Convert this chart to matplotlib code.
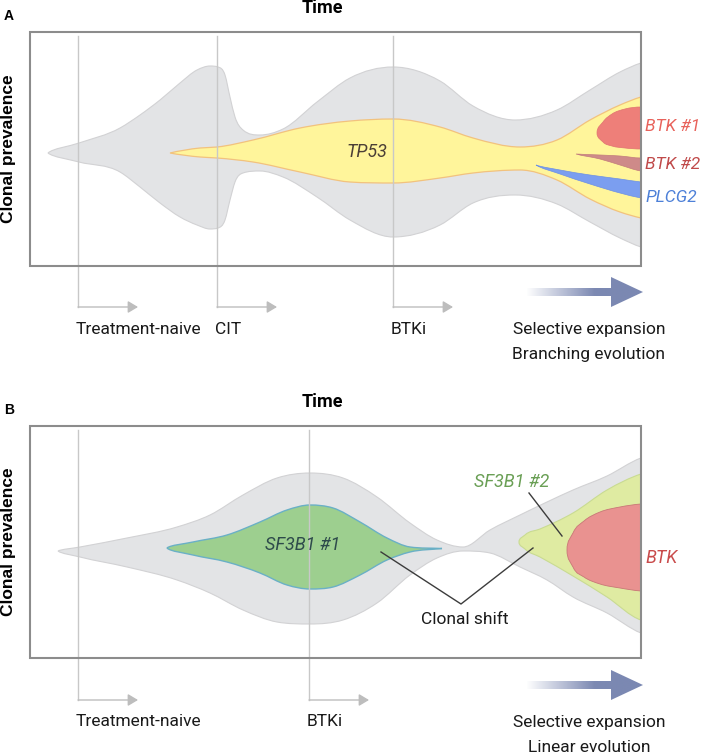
import numpy as np
import matplotlib
matplotlib.use("Agg")
import matplotlib.pyplot as plt
from matplotlib.path import Path
from matplotlib.patches import PathPatch, Rectangle, Polygon

plt.rcParams['font.family'] = ['Roboto', 'DejaVu Sans']

# ---- clone outlines (time position, upper edge, lower edge) ----
# panel A: branching evolution
grayA_x = [48, 79, 120, 140, 160, 180, 197, 210, 218, 225, 230, 235, 243, 260, 283, 317, 350, 393, 440, 473, 515, 557, 590, 620, 641, 680]
grayA_top = [153, 143, 128, 115, 100, 83, 70, 66, 67, 75, 97, 117, 130, 135, 129, 102, 78, 67, 81, 106, 120, 110, 90, 72, 63, 58]
grayA_bot = [153, 162, 172, 187, 203, 217, 225, 229, 228, 220, 200, 182, 173, 171, 177, 197, 220, 237, 225, 203, 195, 204, 222, 238, 247, 252]

tp53_x = [170, 200, 217, 253, 300, 350, 393, 440, 473, 520, 557, 590, 620, 641, 680]
tp53_top = [153, 148, 147, 140, 128, 121, 119, 127, 138, 147, 140, 120, 105, 97, 92]
tp53_bot = [153, 157, 158, 162, 172, 182, 183, 178, 173, 170, 180, 199, 212, 218, 223]

btk1_x = [597, 603, 612, 625, 641, 680]
btk1_top = [133, 122, 114, 109, 107, 107]
btk1_bot = [133, 142, 146, 148, 149, 149]

btk2_x = [576, 600, 620, 641, 680]
btk2_top = [154, 155, 156, 158, 158]
btk2_bot = [154, 159, 165, 171, 173]

plcg2_x = [536, 560, 590, 620, 641, 680]
plcg2_top = [165, 170, 175, 179, 182, 184]
plcg2_bot = [165, 174, 184, 193, 198, 202]

# panel B: linear evolution
grayB_x = [58, 80, 127, 177, 210, 243, 277, 310, 343, 377, 410, 437, 463, 490, 520, 547, 573, 607, 641, 680]
grayB_top = [551, 547, 538, 527, 515, 495, 478, 473, 478, 497, 523, 540, 547, 530, 515, 502, 490, 476, 458, 452]
grayB_bot = [551, 557, 567, 580, 593, 610, 622, 624, 620, 603, 575, 558, 551, 553, 567, 580, 597, 613, 633, 638]

sf1_x = [167, 193, 227, 260, 287, 310, 333, 360, 387, 410, 442]
sf1_top = [548, 542, 535, 522, 510, 505, 508, 522, 538, 547, 548.5]
sf1_bot = [548, 555, 562, 573, 585, 589, 587, 575, 560, 552, 548.5]

sf2_x = [519, 525, 540, 573, 607, 641, 680]
sf2_top = [542, 535, 529, 513, 490, 474, 468]
sf2_bot = [542, 549, 557, 576, 597, 620, 624]

btkB_x = [567, 573, 584, 600, 620, 641, 680]
btkB_top = [550, 533, 521, 512, 507, 504, 503]
btkB_bot = [550, 567, 577, 584, 588, 591, 592]

# treatment marks
marksA = ["Treatment-naive", "CIT", "BTKi"]
marksA_x = [78, 217, 393]
marksB = ["Treatment-naive", "BTKi"]
marksB_x = [78, 309]


def slopes(x, y):
    x = np.asarray(x, float)
    y = np.asarray(y, float)
    h = np.diff(x)
    d = np.diff(y) / h
    m = np.zeros(len(x))
    m[0], m[-1] = d[0], d[-1]
    for i in range(1, len(x) - 1):
        if d[i - 1] * d[i] > 0:
            s = (d[i - 1] * h[i] + d[i] * h[i - 1]) / (h[i - 1] + h[i])
            lim = 3 * min(abs(d[i - 1]), abs(d[i]))
            m[i] = np.sign(s) * min(abs(s), lim)
    return m


def edge(x, y, rnd):
    m = slopes(x, y)
    segs = []
    for i in range(len(x) - 1):
        h = x[i + 1] - x[i]
        c1 = (x[i] + h / 3, y[i] + m[i] * h / 3)
        if i == 0:
            vert = (x[0], y[0] + (y[1] - y[0]) * 0.6)
            c1 = (c1[0] * (1 - rnd) + vert[0] * rnd, c1[1] * (1 - rnd) + vert[1] * rnd)
        c2 = (x[i + 1] - h / 3, y[i + 1] - m[i + 1] * h / 3)
        segs.append(((x[i], y[i]), c1, c2, (x[i + 1], y[i + 1])))
    return segs


def fish_path(xs, top, bot, rnd):
    up = edge(xs, top, rnd)
    lo = edge(xs, bot, rnd)
    verts = [up[0][0]]
    codes = [Path.MOVETO]
    for p, c1, c2, q in up:
        verts += [c1, c2, q]
        codes += [Path.CURVE4] * 3
    verts.append(lo[-1][3])
    codes.append(Path.LINETO)
    for p, c1, c2, q in lo[::-1]:
        verts += [c2, c1, p]
        codes += [Path.CURVE4] * 3
    verts.append(up[0][0])
    codes.append(Path.CLOSEPOLY)
    return Path(verts, codes)


fig = plt.figure(figsize=(7.02, 7.53), dpi=100)
ax = fig.add_axes([0, 0, 1, 1])
txt = "#1A1A1A"


def panel(y0, y1, label, clones, marks, marks_x, arrow_y, text_y, lines):
    box = Rectangle((30, y0), 611, y1 - y0, fill=False, ec="#8C8C8C", lw=1.5, zorder=6)
    ax.add_patch(box)
    clip = Rectangle((30, y0), 611, y1 - y0, transform=ax.transData)
    for xs, tp, bt, fc, ec, lw, rnd in clones:
        p = PathPatch(fish_path(xs, tp, bt, rnd), fc=fc, ec=ec, lw=lw, zorder=2)
        ax.add_patch(p)
        p.set_clip_path(clip)
    for m, mx in zip(marks, marks_x):
        ax.plot([mx, mx], [y0 + 4, arrow_y], color="#C8C8C8", lw=1, zorder=4)
        ax.annotate("", xy=(mx + 60, arrow_y), xytext=(mx, arrow_y),
                    arrowprops=dict(arrowstyle="-|>,head_length=0.5,head_width=0.3",
                                    color="#BDBDBD", lw=1, shrinkA=0, shrinkB=0,
                                    mutation_scale=12), zorder=4)
        ax.text(mx - 2, text_y, m, fontsize=12.5, color=txt, ha="left", va="center")
    ax.text(4, y0 - 16, label, fontsize=10, fontweight="bold", family="Liberation Sans",
            ha="left", va="center")
    ax.text(322, y0 - 24, "Time", fontsize=13, fontweight="bold", ha="center", va="center")
    ax.text(9, (y0 + y1) / 2, "Clonal prevalence", fontsize=12.5, fontweight="bold",
            family="Liberation Sans", rotation=90, ha="center", va="center")
    # big gradient arrow
    ay = arrow_y - 15
    poly = Polygon([(526, ay - 4), (611, ay - 4), (611, ay - 15), (643, ay),
                    (611, ay + 15), (611, ay + 4), (526, ay + 4)], closed=True,
                   fc="none", ec="none")
    ax.add_patch(poly)
    grad = np.zeros((2, 200, 4))
    grad[..., :3] = matplotlib.colors.to_rgb("#7B88B2")
    grad[..., 3] = np.clip(np.linspace(0, 1.7, 200), 0, 1)
    im = ax.imshow(grad, extent=(526, 643, ay + 16, ay - 16), aspect="auto", zorder=3)
    im.set_clip_path(poly)
    ax.text(589, text_y, "Selective expansion", fontsize=12.5, color=txt,
            ha="center", va="center")
    ax.text(589, text_y + 25, lines, fontsize=12.5, color=txt,
            ha="center", va="center")


panel(32, 266, "A", [
    (grayA_x, grayA_top, grayA_bot, "#E3E4E6", "#D2D2D4", 0.8, 0.5),
    (tp53_x, tp53_top, tp53_bot, "#FFF59B", "#F2C27E", 0.9, 0.2),
    (btk1_x, btk1_top, btk1_bot, "#EE7F79", "#E07370", 0.5, 1.0),
    (btk2_x, btk2_top, btk2_bot, "#CE8A89", "#C27C7C", 0.5, 0.2),
    (plcg2_x, plcg2_top, plcg2_bot, "#7B9EF0", "#6C90E4", 0.5, 0.3),
], marksA, marksA_x, 307, 329, "Branching evolution")

panel(426, 658, "B", [
    (grayB_x, grayB_top, grayB_bot, "#E3E4E6", "#D2D2D4", 0.8, 0.5),
    (sf1_x, sf1_top, sf1_bot, "#9DCF8F", "#6AB0C6", 1.0, 0.6),
    (sf2_x, sf2_top, sf2_bot, "#DFEBA2", "#C9DB92", 0.8, 1.0),
    (btkB_x, btkB_top, btkB_bot, "#E99290", "#C97777", 0.6, 1.0),
], marksB, marksB_x, 700, 722, "Linear evolution")

# clone labels
ax.text(367, 152, "TP53", fontsize=13, style="italic", color="#4B3F36", ha="center", va="center", zorder=7)
ax.text(645, 126, "BTK #1", fontsize=12.5, style="italic", color="#E8625B", ha="left", va="center")
ax.text(645, 164, "BTK #2", fontsize=12.5, style="italic", color="#C04A4A", ha="left", va="center")
ax.text(645, 197, "PLCG2", fontsize=12.5, style="italic", color="#4D80D8", ha="left", va="center")
ax.text(303, 545, "SF3B1 #1", fontsize=13, style="italic", color="#2E4B4B", ha="center", va="center", zorder=7)
ax.text(512, 482, "SF3B1 #2", fontsize=13, style="italic", color="#6A9F55", ha="center", va="center")
ax.text(645, 558, "BTK", fontsize=13, style="italic", color="#C94B4B", ha="left", va="center")
ax.text(465, 620, "Clonal shift", fontsize=12.5, color=txt, ha="center", va="center")
ax.plot([381, 461, 533], [552, 604, 548], color="#3C3C3C", lw=1, zorder=7)
ax.plot([529, 562], [493, 536], color="#3C3C3C", lw=1, zorder=7)

ax.set_xlim(0, 702)
ax.set_ylim(753, 0)
ax.axis("off")
fig.savefig("out.png", dpi=100)
